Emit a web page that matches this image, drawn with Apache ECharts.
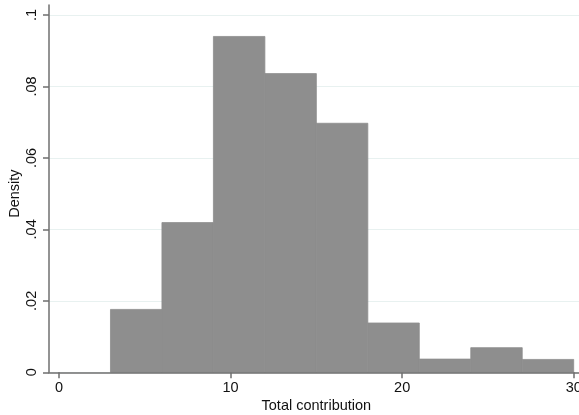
<!DOCTYPE html>
<html><head><meta charset="utf-8">
<script src="https://cdn.jsdelivr.net/npm/echarts@6/dist/echarts.min.js"></script>
<style>html,body{margin:0;padding:0;background:#fff}#c{width:579px;height:415px}</style>
</head><body><div id="c"></div>
<script>
// Histogram data (density per bin, bin width 3)
const binStart = [3, 6, 9, 12, 15, 18, 21, 24, 27];
const binEnd   = [6, 9, 12, 15, 18, 21, 24, 27, 30];
const density  = [0.0176, 0.0419, 0.0940, 0.0836, 0.0697, 0.0138, 0.0037, 0.0069, 0.0036];
const xTickLabels = ['0', '10', '20', '30'];
const yTickValues = [0, 0.02, 0.04, 0.06, 0.08, 0.1];
const yTickLabels = ['0', '.02', '.04', '.06', '.08', '.1'];

const FONT = '"Liberation Sans", Arial, Helvetica, sans-serif';
const TXT = '#111';
const AX = '#6f6f6f';

const chart = echarts.init(document.getElementById('c'), null, {renderer: 'canvas'});
const data = binStart.map((s, i) => [s, binEnd[i], density[i]]);

function yLabel(v) {
  for (let i = 0; i < yTickValues.length; i++) {
    if (Math.abs(v - yTickValues[i]) < 1e-9) return yTickLabels[i];
  }
  return '';
}

chart.setOption({
  animation: false,
  backgroundColor: '#fff',
  grid: [
    {left: 49, right: 0, top: 5, bottom: 42.7, outerBoundsMode: 'none', containLabel: false},
    {left: 59, right: 5.3, top: 15, bottom: 42.7, outerBoundsMode: 'none', containLabel: false},
    {left: 49, right: 0, top: 15, bottom: 42.7, outerBoundsMode: 'none', containLabel: false}
  ],
  xAxis: [
    {gridIndex: 0, type: 'value', min: -0.58, max: 30.33, z: 5,
     axisLine: {show: true, onZero: false, lineStyle: {color: AX, width: 1.5}},
     axisTick: {show: false}, axisLabel: {show: false}, splitLine: {show: false}},
    {gridIndex: 1, type: 'value', min: 0, max: 30, interval: 10,
     axisLine: {show: false},
     axisTick: {show: true, length: 6, lineStyle: {color: AX, width: 1.5}},
     axisLabel: {margin: 8, color: TXT, fontSize: 14.5, fontFamily: FONT,
                 formatter: v => xTickLabels[Math.round(v / 10)] || ''},
     splitLine: {show: false},
     name: 'Total contribution', nameLocation: 'middle', nameGap: 26, nameMoveOverlap: false,
     nameTextStyle: {color: TXT, fontSize: 14.5, fontFamily: FONT}},
    {gridIndex: 2, type: 'value', min: 0, max: 30, show: false}
  ],
  yAxis: [
    {gridIndex: 0, type: 'value', min: 0, max: 0.1029, z: 5,
     axisLine: {show: true, onZero: false, lineStyle: {color: AX, width: 1.5}},
     axisTick: {show: false}, axisLabel: {show: false}, splitLine: {show: false}},
    {gridIndex: 1, type: 'value', min: 0, max: 0.1, show: false},
    {gridIndex: 2, type: 'value', min: 0, max: 0.1, interval: 0.02,
     axisLine: {show: false},
     axisTick: {show: true, length: 6, lineStyle: {color: AX, width: 1.5}},
     axisLabel: {margin: 10, rotate: 90, color: TXT, fontSize: 14.5, fontFamily: FONT,
                 formatter: yLabel},
     splitLine: {show: true, lineStyle: {color: '#e8f1f0', width: 1}},
     name: 'Density', nameLocation: 'middle', nameGap: 34, nameRotate: 90, nameMoveOverlap: false,
     nameTextStyle: {color: TXT, fontSize: 14.5, fontFamily: FONT, verticalAlign: 'middle'}}
  ],
  series: [{
    type: 'custom',
    xAxisIndex: 1, yAxisIndex: 1,
    clip: false,
    data: data,
    encode: {x: [0, 1], y: 2},
    renderItem: function (params, api) {
      const p0 = api.coord([api.value(0), 0]);
      const p1 = api.coord([api.value(1), api.value(2)]);
      return {
        type: 'rect',
        shape: {x: p0[0], y: p1[1], width: p1[0] - p0[0], height: p0[1] - p1[1]},
        style: {fill: '#8e8e8e', stroke: '#8e8e8e', lineWidth: 0.8}
      };
    }
  }]
});
</script>
</body></html>
